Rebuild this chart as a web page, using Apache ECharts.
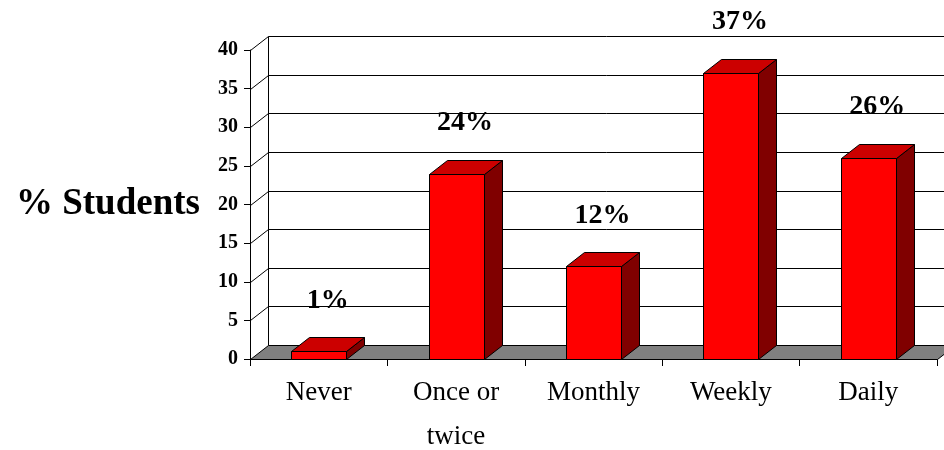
<!DOCTYPE html>
<html><head><meta charset="utf-8">
<script src="https://cdn.jsdelivr.net/npm/echarts@6/dist/echarts.min.js"></script>
<style>html,body{margin:0;padding:0;background:#fff}#c{width:944px;height:450px}</style>
</head><body><div id="c"></div>
<script>
const categories = ['Never', 'Once or\ntwice', 'Monthly', 'Weekly', 'Daily'];
const percentStudents = [1, 24, 12, 37, 26];
const yTicks = [0, 5, 10, 15, 20, 25, 30, 35, 40];
const yAxisName = '% Students';

const DX = 18, DY = -14;
const SERIF = '"Liberation Serif", "Times New Roman", serif';
const px = v => Math.round(v) + 0.5;

const chart = echarts.init(document.getElementById('c'), null, {renderer: 'canvas'});

function renderWall(params, api) {
  const cs = params.coordSys;
  const v = api.value(0);
  const y = px(api.coord([0, v])[1]);
  const left = px(cs.x), right = px(cs.x + cs.width);
  const ls = {stroke: '#000', lineWidth: 1, fill: null};
  const children = [];
  if (v === yTicks[0]) {
    children.push({type: 'polygon', shape: {points: [[left, y], [left + DX, y + DY], [right + DX, y + DY], [right, y]]},
      style: {fill: '#808080', stroke: '#000', lineWidth: 1}});
    const yTop = px(api.coord([0, yTicks[yTicks.length - 1]])[1]);
    children.push({type: 'line', shape: {x1: left + DX, y1: y + DY, x2: left + DX, y2: yTop + DY}, style: ls});
  } else {
    children.push({type: 'line', shape: {x1: left, y1: y, x2: left + DX, y2: y + DY}, style: ls});
    children.push({type: 'line', shape: {x1: left + DX, y1: y + DY, x2: right + DX + 20, y2: y + DY}, style: ls});
  }
  return {type: 'group', children};
}

function renderBar(params, api) {
  const i = api.value(0), v = api.value(1);
  const base = api.coord([i, 0]);
  const top = api.coord([i, v]);
  const w = api.size([1, 0])[0] * 0.4;
  const x0 = px(base[0] - w / 2), x1 = px(base[0] + w / 2);
  const yb = px(base[1]), yt = px(top[1]);
  const st = c => ({fill: c, stroke: '#000', lineWidth: 1});
  return {type: 'group', children: [
    {type: 'polygon', shape: {points: [[x1, yb], [x1 + DX, yb + DY], [x1 + DX, yt + DY], [x1, yt]]}, style: st('#800000')},
    {type: 'polygon', shape: {points: [[x0, yt], [x0 + DX, yt + DY], [x1 + DX, yt + DY], [x1, yt]]}, style: st('#CC0000')},
    {type: 'rect', shape: {x: x0, y: yt, width: x1 - x0, height: yb - yt}, style: st('#FF0000')},
    {type: 'text', x: base[0] + DX / 2, y: top[1] - 51,
      style: {text: v + '%', font: 'bold 28px ' + SERIF, fill: '#000', align: 'center', verticalAlign: 'middle'}}
  ]};
}

chart.setOption({
  animation: false,
  backgroundColor: '#fff',
  grid: {left: 250, right: 7, top: 50, bottom: 91, containLabel: false, outerBoundsMode: 'none'},
  xAxis: {
    type: 'category', data: categories, boundaryGap: true,
    axisLine: {show: true, lineStyle: {color: '#000', width: 1}},
    axisTick: {show: true, alignWithLabel: false, interval: 0, length: 7, lineStyle: {color: '#000'}},
    axisLabel: {interval: 0, margin: 12, fontFamily: SERIF, fontSize: 27, lineHeight: 44, color: '#000'}
  },
  yAxis: {
    type: 'value', min: 0, max: 40, interval: 5,
    name: yAxisName, nameLocation: 'middle', nameRotate: 0, nameGap: 50,
    nameTextStyle: {fontFamily: SERIF, fontSize: 37, fontWeight: 'bold', color: '#000', align: 'right', verticalAlign: 'middle'},
    axisLine: {show: true, lineStyle: {color: '#000', width: 1}},
    axisTick: {show: true, length: 6, lineStyle: {color: '#000'}},
    splitLine: {show: false},
    axisLabel: {margin: 12, fontFamily: SERIF, fontSize: 20, fontWeight: 'bold', color: '#000'}
  },
  series: [
    {type: 'custom', renderItem: renderWall, data: yTicks.map(v => [v]), encode: {y: 0}, silent: true, z: 1, clip: false},
    {type: 'custom', renderItem: renderBar, data: percentStudents.map((v, i) => [i, v]), encode: {x: 0, y: 1}, z: 3, clip: false}
  ]
});
</script>
</body></html>
